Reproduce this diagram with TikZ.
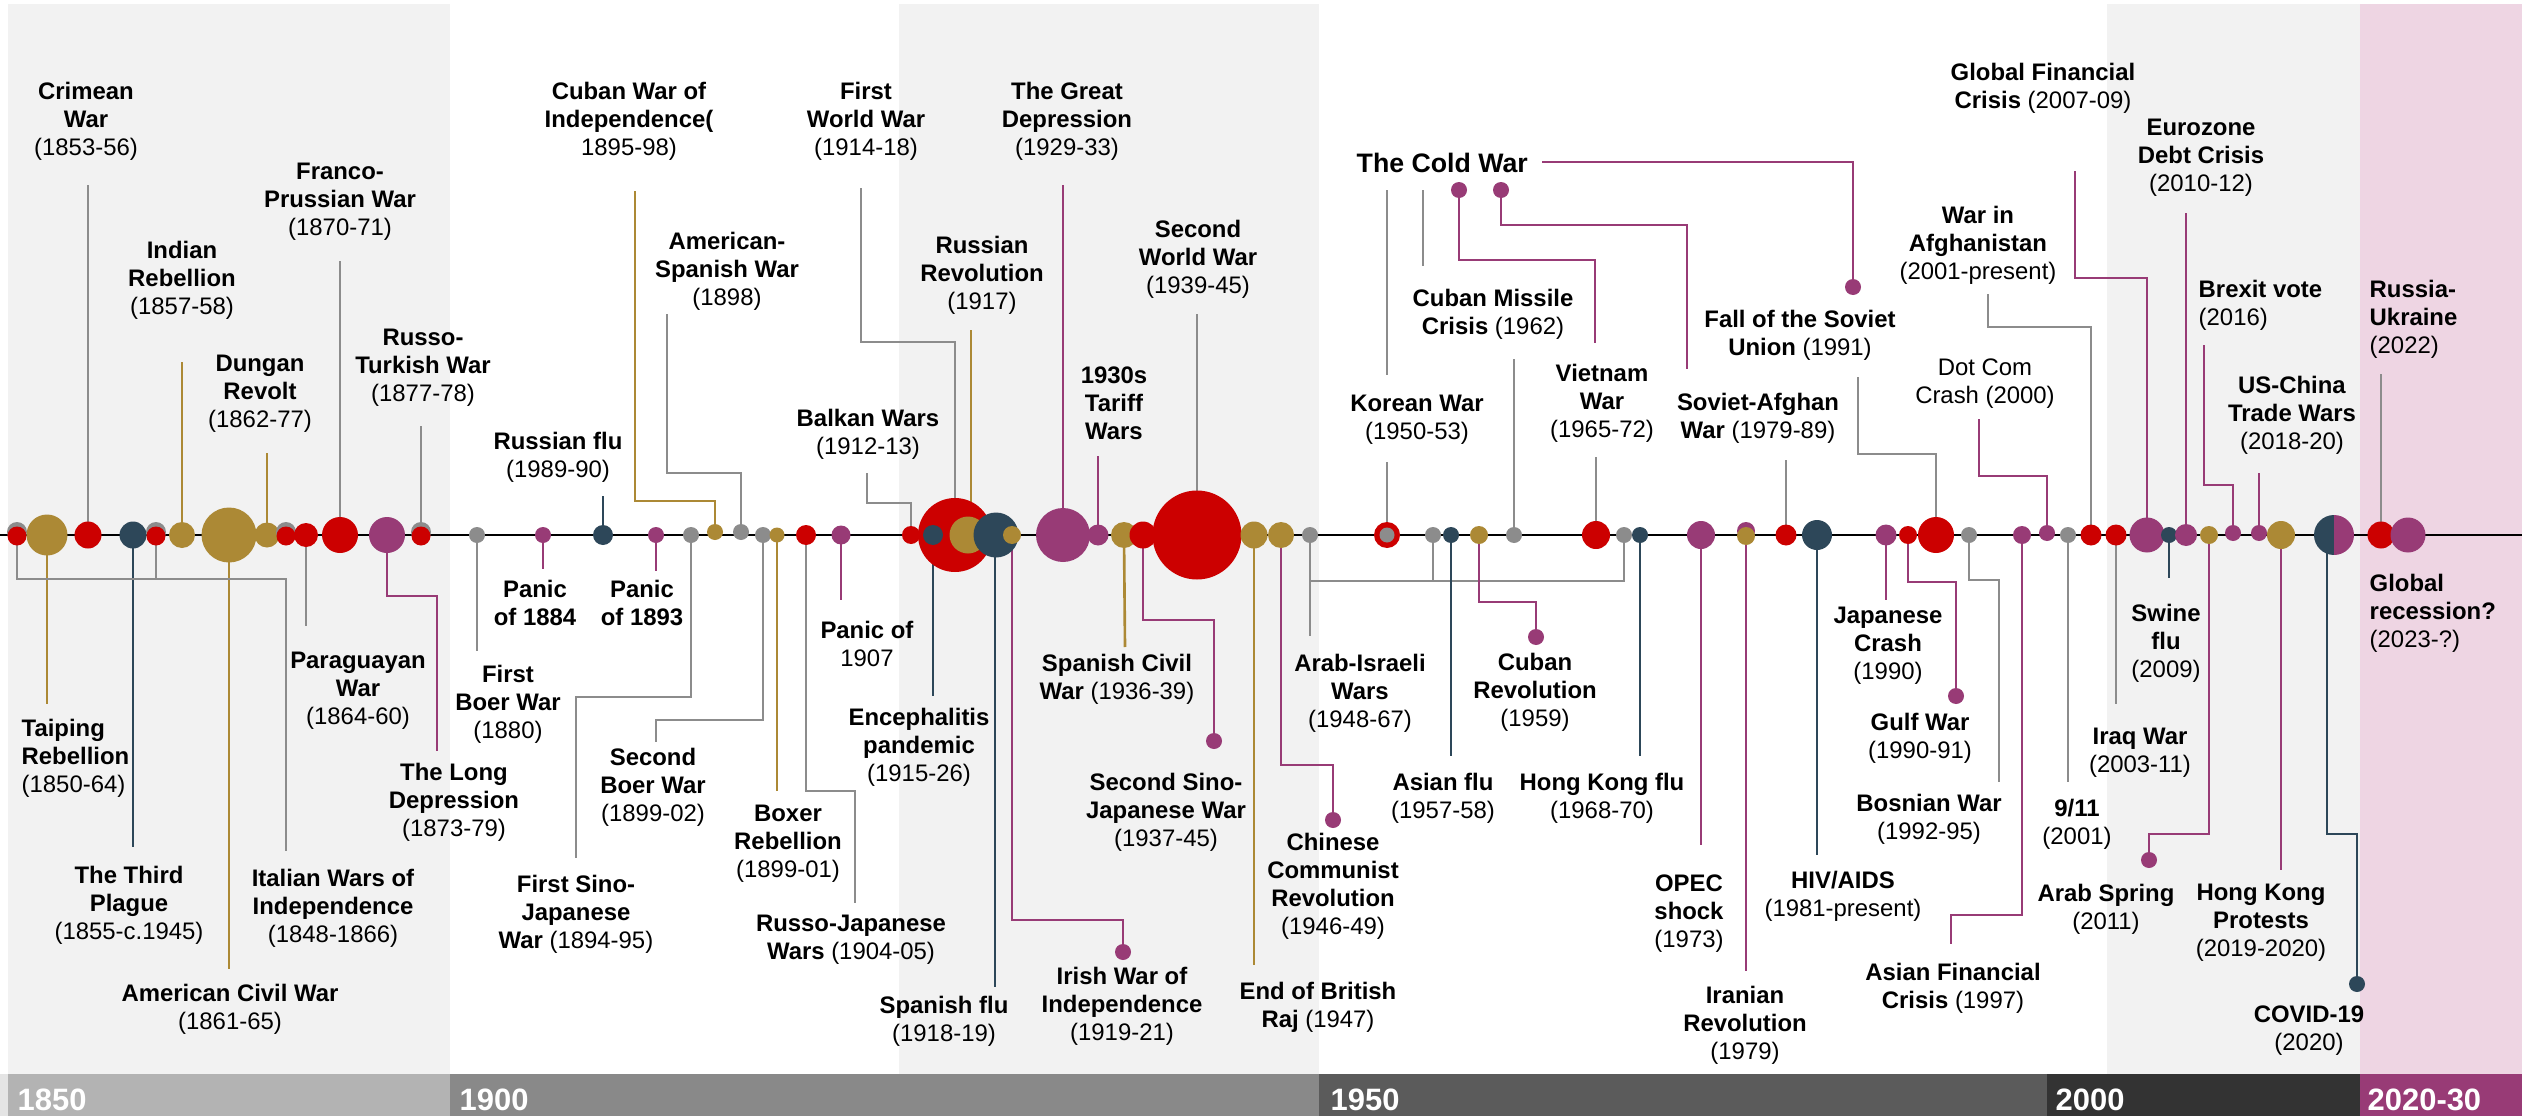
\documentclass[tikz,border=0pt]{standalone}
\usepackage{fontspec}
\setmainfont{Liberation Sans}
\usetikzlibrary{positioning}
\definecolor{cwar}{HTML}{CC0000}
\definecolor{cpol}{HTML}{AC8935}
\definecolor{cflu}{HTML}{2D4759}
\definecolor{ceco}{HTML}{983B76}
\definecolor{cgen}{HTML}{8C8C8C}
\definecolor{cshade}{HTML}{F2F2F2}
\definecolor{cpink}{HTML}{EED5E3}
\definecolor{cbarA}{HTML}{B3B3B3}
\definecolor{cbarB}{HTML}{898989}
\definecolor{cbarC}{HTML}{5B5B5B}
\definecolor{cbarD}{HTML}{333333}
\newcommand{\tb}[1]{\textbf{#1}}
\pgfdeclarelayer{back}
\pgfdeclarelayer{links}
\pgfsetlayers{back,links,main}

\begin{document}
\begin{tikzpicture}[
	x=0.1mm,
	y=-0.1mm,
	dot/.style={circle, draw=none, inner sep=0pt, outer sep=0pt, minimum size=#1},
	wardot/.style={dot=#1, fill=cwar},
	poldot/.style={dot=#1, fill=cpol},
	fludot/.style={dot=#1, fill=cflu},
	ecodot/.style={dot=#1, fill=ceco},
	gendot/.style={dot=#1, fill=cgen},
	lbl/.style={align=center, inner sep=0pt, font=\fontsize{6.8}{8}\selectfont},
	yr/.style={anchor=base west, inner sep=0pt, text=white, font=\fontsize{8.8}{10}\selectfont\bfseries},
	link/.style={line width=0.75pt}
]
\useasboundingbox (0,0) rectangle (2522,1116);

% periods and time bar
\begin{pgfonlayer}{back}
\fill[white] (0,0) rectangle (2522,1116);
\fill[cshade] (8,4) rectangle (450,1074);
\fill[cshade] (899,4) rectangle (1319,1074);
\fill[cshade] (2107,4) rectangle (2360,1074);
\fill[cpink] (2360,4) rectangle (2522,1074);
\fill[cbarA!35] (0,1074) rectangle (8,1116);
\fill[cbarA] (8,1074) rectangle (450,1116);
\fill[cbarB] (450,1074) rectangle (1319,1116);
\fill[cbarC] (1319,1074) rectangle (2047,1116);
\fill[cbarD] (2047,1074) rectangle (2360,1116);
\fill[ceco] (2360,1074) rectangle (2522,1116);
\end{pgfonlayer}

\node[yr] (y1850) at (17,1110) {1850};
\node[yr] (y1900) at (459,1110) {1900};
\node[yr] (y1950) at (1330,1110) {1950};
\node[yr] (y2000) at (2055,1110) {2000};
\node[yr] (y2020) at (2367,1110) {2020-30};

\coordinate (axL) at (0,535);
\coordinate (axR) at (2522,535);

% 1850-1899
\node[gendot=2mm] (itA) at (17,532) {};
\node[wardot=1.9mm] (warA) at (17,536) {};
\node[poldot=4.1mm] (taiping) at (47,535) {};
\node[wardot=2.7mm] (crimea) at (88,535) {};
\node[fludot=2.7mm] (plague) at (133,535) {};
\node[gendot=2mm] (itB) at (156,532) {};
\node[wardot=1.9mm] (warB) at (156,536) {};
\node[poldot=2.6mm] (india) at (182,535) {};
\node[poldot=5.5mm] (amcivil) at (229,535) {};
\node[poldot=2.5mm] (dungan) at (267,535) {};
\node[gendot=2mm] (itC) at (286,532) {};
\node[wardot=1.9mm] (warC) at (286,536) {};
\node[wardot=2.4mm] (paraguay) at (306,535) {};
\node[wardot=3.6mm] (franco) at (340,535) {};
\node[ecodot=3.6mm] (longdep) at (387,535) {};
\node[gendot=2mm] (rusturkB) at (421,532) {};
\node[wardot=1.9mm] (rusturk) at (421,536) {};

% 1900-1949
\node[gendot=1.6mm] (boer1) at (477,535) {};
\node[ecodot=1.6mm] (panic84) at (543,535) {};
\node[fludot=2mm] (rusflu) at (603,535) {};
\node[ecodot=1.6mm] (panic93) at (656,535) {};
\node[gendot=1.6mm] (sino1) at (691,535) {};
\node[poldot=1.6mm] (cuba) at (715,532) {};
\node[gendot=1.6mm] (amspan) at (741,532) {};
\node[gendot=1.6mm] (boer2) at (763,535) {};
\node[poldot=1.5mm] (boxer) at (777,535) {};
\node[wardot=2mm] (rusjap) at (806,535) {};
\node[ecodot=1.9mm] (panic07) at (841,535) {};
\node[wardot=1.8mm] (balkan) at (911,535) {};
\node[wardot=7.4mm] (ww1) at (955,535) {};
\node[fludot=2mm] (enceph) at (933,535) {};
\node[poldot=3.7mm] (rusrev) at (968,535) {};
\node[fludot=4.5mm] (spflu) at (996,535) {};
\node[poldot=1.8mm] (irish) at (1012,535) {};
\node[ecodot=5.4mm] (greatdep) at (1063,535) {};
\node[ecodot=2.1mm] (tariff) at (1098,535) {};
\node[poldot=2.6mm] (spcivil) at (1124,535) {};
\node[wardot=2.7mm] (sino2) at (1143,535) {};
\node[wardot=8.9mm] (ww2) at (1197,535) {};
\node[poldot=2.7mm] (raj) at (1254,535) {};
\node[poldot=2.6mm] (chinarev) at (1281,535) {};

% 1950-1999
\node[gendot=1.6mm] (arab1) at (1310,535) {};
\node[wardot=2.6mm] (korea) at (1387,535) {};
\node[gendot=1.5mm] (koreaC) at (1387,535) {};
\node[gendot=1.6mm] (arab2) at (1433,535) {};
\node[fludot=1.6mm] (asflu) at (1451,535) {};
\node[poldot=1.8mm] (cubarev) at (1479,535) {};
\node[gendot=1.6mm] (missile) at (1514,535) {};
\node[wardot=2.8mm] (vietnam) at (1596,535) {};
\node[gendot=1.6mm] (arab3) at (1624,535) {};
\node[fludot=1.6mm] (hkflu) at (1640,535) {};
\node[ecodot=2.8mm] (opec) at (1701,535) {};
\node[ecodot=1.8mm] (iranB) at (1746,531) {};
\node[poldot=1.8mm] (iran) at (1746,536) {};
\node[wardot=2.1mm] (sovafg) at (1786,535) {};
\node[fludot=3mm] (hiv) at (1817,535) {};
\node[ecodot=2.1mm] (japcrash) at (1886,535) {};
\node[wardot=1.8mm] (gulf) at (1908,535) {};
\node[wardot=3.6mm] (sovfall) at (1936,535) {};
\node[gendot=1.6mm] (bosnia) at (1969,535) {};
\node[ecodot=1.8mm] (asfin) at (2022,535) {};
\node[ecodot=1.6mm] (dotcom) at (2047,533) {};
\node[gendot=1.6mm] (nine) at (2068,535) {};
\node[wardot=2.1mm] (afghan) at (2091,535) {};

% 2000-
\node[wardot=2.1mm] (iraq) at (2116,535) {};
\node[ecodot=3.5mm] (gfc) at (2147,535) {};
\node[fludot=1.6mm] (swine) at (2169,535) {};
\node[ecodot=2.2mm] (euro) at (2186,535) {};
\node[poldot=1.8mm] (arabspr) at (2209,535) {};
\node[ecodot=1.6mm] (brexit) at (2233,533) {};
\node[ecodot=1.6mm] (uschina) at (2259,533) {};
\node[poldot=2.8mm] (hkprot) at (2281,535) {};
\node[dot=4mm, path picture={
	\fill[cflu] (path picture bounding box.north west) rectangle (path picture bounding box.south);
	\fill[ceco] (path picture bounding box.north) rectangle (path picture bounding box.south east);}] (covid) at (2334,535) {};
\node[wardot=2.7mm] (rusukr) at (2381,535) {};
\node[ecodot=3.5mm] (recession) at (2408,535) {};

% end dots
\node[ecodot=1.6mm] (irishD) at (1123,952) {};
\node[ecodot=1.6mm] (sino2D) at (1214,741) {};
\node[ecodot=1.6mm] (chinaD) at (1333,820) {};
\node[ecodot=1.6mm] (cubarevD) at (1536,637) {};
\node[ecodot=1.6mm] (cwA) at (1459,190) {};
\node[ecodot=1.6mm] (cwB) at (1501,190) {};
\node[ecodot=1.6mm] (sovfallD) at (1853,287) {};
\node[ecodot=1.6mm] (gulfD) at (1956,696) {};
\node[ecodot=1.6mm] (asprD) at (2149,860) {};
\node[fludot=1.6mm] (covidD) at (2357,984) {};

% labels 1850-1899
\node[lbl] (crimeaL) at (86,121) {\tb{Crimean}\\\tb{War}\\(1853-56)};
\node[lbl] (francoL) at (340,202) {\tb{Franco-}\\\tb{Prussian War}\\(1870-71)};
\node[lbl] (indiaL) at (182,280) {\tb{Indian}\\\tb{Rebellion}\\(1857-58)};
\node[lbl] (dunganL) at (260,394) {\tb{Dungan}\\\tb{Revolt}\\(1862-77)};
\node[lbl] (rusturkL) at (423,368) {\tb{Russo-}\\\tb{Turkish War}\\(1877-78)};
\node[lbl, align=left, anchor=west] (taipingL) at (21,758) {\tb{Taiping}\\\tb{Rebellion}\\(1850-64)};
\node[lbl] (plagueL) at (129,905) {\tb{The Third}\\\tb{Plague}\\(1855-c.1945)};
\node[lbl] (amcivilL) at (230,1009) {\tb{American Civil War}\\(1861-65)};
\node[lbl] (italyL) at (333,908) {\tb{Italian Wars of}\\\tb{Independence}\\(1848-1866)};
\node[lbl] (paraguayL) at (358,691) {\tb{Paraguayan}\\\tb{War}\\(1864-60)};
\node[lbl] (longdepL) at (454,802) {\tb{The Long}\\\tb{Depression}\\(1873-79)};

% labels 1900-1949
\node[lbl] (cubaL) at (629,121) {\tb{Cuban War of}\\\tb{Independence(}\\1895-98)};
\node[lbl] (amspanL) at (727,271) {\tb{American-}\\\tb{Spanish War}\\(1898)};
\node[lbl] (rusfluL) at (558,457) {\tb{Russian flu}\\(1989-90)};
\node[lbl] (balkanL) at (868,434) {\tb{Balkan Wars}\\(1912-13)};
\node[lbl] (panic84L) at (535,603) {\tb{Panic}\\\tb{of 1884}};
\node[lbl] (panic93L) at (642,603) {\tb{Panic}\\\tb{of 1893}};
\node[lbl] (boer1L) at (508,704) {\tb{First}\\\tb{Boer War}\\(1880)};
\node[lbl] (boer2L) at (653,787) {\tb{Second}\\\tb{Boer War}\\(1899-02)};
\node[lbl] (sino1L) at (576,914) {\tb{First Sino-}\\\tb{Japanese}\\\tb{War} (1894-95)};
\node[lbl] (boxerL) at (788,844) {\tb{Boxer}\\\tb{Rebellion}\\(1899-01)};
\node[lbl] (rusjapL) at (851,940) {\tb{Russo-Japanese}\\\tb{Wars} (1904-05)};
\node[lbl] (panic07L) at (867,644) {\tb{Panic of}\\1907};
\node[lbl] (encephL) at (919,747) {\tb{Encephalitis}\\\tb{pandemic}\\(1915-26)};
\node[lbl] (ww1L) at (866,121) {\tb{First}\\\tb{World War}\\(1914-18)};
\node[lbl] (greatdepL) at (1067,121) {\tb{The Great}\\\tb{Depression}\\(1929-33)};
\node[lbl] (rusrevL) at (982,275) {\tb{Russian}\\\tb{Revolution}\\(1917)};
\node[lbl] (ww2L) at (1198,259) {\tb{Second}\\\tb{World War}\\(1939-45)};
\node[lbl] (tariffL) at (1114,403) {\tb{1930s}\\\tb{Tariff}\\\tb{Wars}};
\node[lbl] (spcivilL) at (1117,679) {\tb{Spanish Civil}\\\tb{War} (1936-39)};
\node[lbl] (sino2L) at (1166,812) {\tb{Second Sino-}\\\tb{Japanese War}\\(1937-45)};
\node[lbl] (spfluL) at (944,1021) {\tb{Spanish flu}\\(1918-19)};
\node[lbl] (irishL) at (1122,1006) {\tb{Irish War of}\\\tb{Independence}\\(1919-21)};
\node[lbl] (rajL) at (1318,1007) {\tb{End of British}\\\tb{Raj} (1947)};
\node[lbl] (chinarevL) at (1333,886) {\tb{Chinese}\\\tb{Communist}\\\tb{Revolution}\\(1946-49)};

% labels 1950-1999
\node[lbl, anchor=west, font=\fontsize{7.6}{9}\selectfont\bfseries] (coldL) at (1356,163) {The Cold War};
\node[lbl] (koreaL) at (1417,420) {\tb{Korean War}\\(1950-53)};
\node[lbl] (missileL) at (1493,314) {\tb{Cuban Missile}\\\tb{Crisis} (1962)};
\node[lbl] (vietnamL) at (1602,403) {\tb{Vietnam}\\\tb{War}\\(1965-72)};
\node[lbl] (sovafgL) at (1758,418) {\tb{Soviet-Afghan}\\\tb{War} (1979-89)};
\node[lbl] (sovfallL) at (1800,335) {\tb{Fall of the Soviet}\\\tb{Union} (1991)};
\node[lbl] (arabL) at (1360,693) {\tb{Arab-Israeli}\\\tb{Wars}\\(1948-67)};
\node[lbl] (cubarevL) at (1535,692) {\tb{Cuban}\\\tb{Revolution}\\(1959)};
\node[lbl] (asfluL) at (1443,798) {\tb{Asian flu}\\(1957-58)};
\node[lbl] (hkfluL) at (1602,798) {\tb{Hong Kong flu}\\(1968-70)};
\node[lbl] (opecL) at (1689,914) {\tb{OPEC}\\\tb{shock}\\(1973)};
\node[lbl] (iranL) at (1745,1025) {\tb{Iranian}\\\tb{Revolution}\\(1979)};
\node[lbl] (japcrashL) at (1888,646) {\tb{Japanese}\\\tb{Crash}\\(1990)};
\node[lbl] (gulfL) at (1920,738) {\tb{Gulf War}\\(1990-91)};
\node[lbl] (bosniaL) at (1929,819) {\tb{Bosnian War}\\(1992-95)};
\node[lbl] (hivL) at (1843,896) {\tb{HIV/AIDS}\\(1981-present)};
\node[lbl] (asfinL) at (1953,988) {\tb{Asian Financial}\\\tb{Crisis} (1997)};
\node[lbl] (dotcomL) at (1985,384) {Dot Com\\Crash (2000)};
\node[lbl] (afghanL) at (1978,245) {\tb{War in}\\\tb{Afghanistan}\\(2001-present)};

% labels 2000-
\node[lbl] (gfcL) at (2043,88) {\tb{Global Financial}\\\tb{Crisis} (2007-09)};
\node[lbl] (nineL) at (2077,824) {\tb{9/11}\\(2001)};
\node[lbl] (iraqL) at (2140,753) {\tb{Iraq War}\\(2003-11)};
\node[lbl] (arabsprL) at (2106,909) {\tb{Arab Spring}\\(2011)};
\node[lbl] (euroL) at (2201,158) {\tb{Eurozone}\\\tb{Debt Crisis}\\(2010-12)};
\node[lbl, align=left, anchor=west] (brexitL) at (2198,305) {\tb{Brexit vote}\\(2016)};
\node[lbl] (uschinaL) at (2292,415) {\tb{US-China}\\\tb{Trade Wars}\\(2018-20)};
\node[lbl, align=left, anchor=west] (rusukrL) at (2369,319) {\tb{Russia-}\\\tb{Ukraine}\\(2022)};
\node[lbl] (swineL) at (2166,643) {\tb{Swine}\\\tb{flu}\\(2009)};
\node[lbl, align=left, anchor=west] (recessionL) at (2369,613) {\tb{Global}\\\tb{recession?}\\(2023-?)};
\node[lbl] (hkprotL) at (2261,923) {\tb{Hong Kong}\\\tb{Protests}\\(2019-2020)};
\node[lbl] (covidL) at (2309,1031) {\tb{COVID-19}\\(2020)};

% free ends of the connectors
\coordinate (taipingE) at (47,704);
\coordinate (crimeaE) at (88,185);
\coordinate (plagueE) at (133,847);
\coordinate (indiaE) at (182,362);
\coordinate (amcivilE) at (229,969);
\coordinate (dunganE) at (267,453);
\coordinate (paraguayE) at (306,626);
\coordinate (francoE) at (340,261);
\coordinate (rusturkE) at (421,426);
\coordinate (italyE) at (286,851);
\coordinate (longdepE) at (437,751);
\coordinate (boer1E) at (477,651);
\coordinate (panic84E) at (543,569);
\coordinate (rusfluE) at (603,496);
\coordinate (panic93E) at (656,571);
\coordinate (sino1E) at (576,858);
\coordinate (cubaE) at (635,191);
\coordinate (amspanE) at (667,314);
\coordinate (boer2E) at (656,742);
\coordinate (boxerE) at (777,791);
\coordinate (rusjapE) at (855,903);
\coordinate (panic07E) at (841,600);
\coordinate (balkanE) at (867,473);
\coordinate (ww1E) at (861,188);
\coordinate (encephE) at (933,696);
\coordinate (rusrevE) at (971,330);
\coordinate (spfluE) at (995,987);
\coordinate (greatdepE) at (1063,185);
\coordinate (tariffE) at (1098,456);
\coordinate (spcivilE) at (1125,647);
\coordinate (ww2E) at (1197,314);
\coordinate (rajE) at (1254,965);
\coordinate (arabE) at (1310,636);
\coordinate (koreaE) at (1387,462);
\coordinate (asfluE) at (1451,756);
\coordinate (missileE) at (1514,359);
\coordinate (vietnamE) at (1596,457);
\coordinate (hkfluE) at (1640,756);
\coordinate (opecE) at (1701,845);
\coordinate (cwK1) at (1387,190);
\coordinate (cwK2) at (1387,375);
\coordinate (cwM1) at (1423,190);
\coordinate (cwM2) at (1423,266);
\coordinate (vietE) at (1595,343);
\coordinate (sovafgE2) at (1687,369);
\coordinate (coldS) at (1542,162);
\coordinate (iranE) at (1746,971);
\coordinate (sovafgE) at (1786,460);
\coordinate (hivE) at (1817,855);
\coordinate (japcrashE) at (1886,600);
\coordinate (sovfallE) at (1858,377);
\coordinate (bosniaE) at (1999,782);
\coordinate (asfinE) at (1951,944);
\coordinate (dotcomE) at (1979,419);
\coordinate (nineE) at (2068,782);
\coordinate (afghanE) at (1988,294);
\coordinate (iraqE) at (2116,704);
\coordinate (gfcE) at (2075,171);
\coordinate (swineE) at (2169,578);
\coordinate (euroE) at (2186,213);
\coordinate (brexitE) at (2204,345);
\coordinate (uschinaE) at (2259,473);
\coordinate (hkprotE) at (2281,870);
\coordinate (rusukrE) at (2381,374);

\begin{pgfonlayer}{links}
\draw[line width=0.65pt] (axL) -- (axR);
% 1850-1899
\draw[link, cpol] (taiping.center) -- (taipingE);
\draw[link, cgen] (crimea.center) -- (crimeaE);
\draw[link, cflu] (plague.center) -- (plagueE);
\draw[link, cpol] (india.center) -- (indiaE);
\draw[link, cpol] (amcivil.center) -- (amcivilE);
\draw[link, cpol] (dungan.center) -- (dunganE);
\draw[link, cgen] (paraguay.center) -- (paraguayE);
\draw[link, cgen] (franco.center) -- (francoE);
\draw[link, cgen] (rusturk.center) -- (rusturkE);
\draw[link, cgen] (itA.center) -- ++(0,47) -| (italyE);
\draw[link, cgen] (itB.center) -- ++(0,47);
\draw[link, ceco] (longdep.center) -- ++(0,61) -| (longdepE);
% 1900-1949
\draw[link, cgen] (boer1.center) -- (boer1E);
\draw[link, ceco] (panic84.center) -- (panic84E);
\draw[link, cflu] (rusflu.center) -- (rusfluE);
\draw[link, ceco] (panic93.center) -- (panic93E);
\draw[link, cgen] (sino1.center) -- ++(0,162) -| (sino1E);
\draw[link, cpol] (cuba.center) -- ++(0,-31) -| (cubaE);
\draw[link, cgen] (amspan.center) -- ++(0,-59) -| (amspanE);
\draw[link, cgen] (boer2.center) -- ++(0,185) -| (boer2E);
\draw[link, cpol] (boxer.center) -- (boxerE);
\draw[link, cgen] (rusjap.center) -- ++(0,256) -| (rusjapE);
\draw[link, ceco] (panic07.center) -- (panic07E);
\draw[link, cgen] (balkan.center) -- ++(0,-32) -| (balkanE);
\draw[link, cgen] (ww1.center) -- ++(0,-193) -| (ww1E);
\draw[link, cflu] (enceph.center) -- (encephE);
\draw[link, cpol] (rusrevE) -- (rusrevE |- rusrev.center);
\draw[link, cflu] (spfluE |- spflu.center) -- (spfluE);
\draw[link, ceco] (irish.center) -- ++(0,385) -| (irishD);
\draw[link, ceco] (greatdep.center) -- (greatdepE);
\draw[link, ceco] (tariff.center) -- (tariffE);
\draw[link, cpol] (spcivil.center) -- (spcivilE);
\draw[link, ceco] (sino2.center) -- ++(0,85) -| (sino2D);
\draw[link, cgen] (ww2.center) -- (ww2E);
\draw[link, cpol] (raj.center) -- (rajE);
\draw[link, ceco] (chinarev.center) -- ++(0,230) -| (chinaD);
% 1950-1999
\draw[link, cgen] (arab1.center) -- (arabE);
\draw[link, cgen] (arab3.center) -- ++(0,46) -| (arab1.center);
\draw[link, cgen] (arab2.center) -- ++(0,46);
\draw[link, cgen] (korea.center) -- (koreaE);
\draw[link, cflu] (asflu.center) -- (asfluE);
\draw[link, ceco] (cubarev.center) -- ++(0,67) -| (cubarevD);
\draw[link, cgen] (missile.center) -- (missileE);
\draw[link, cgen] (vietnam.center) -- (vietnamE);
\draw[link, cflu] (hkflu.center) -- (hkfluE);
\draw[link, ceco] (opec.center) -- (opecE);
\draw[link, cgen] (cwK1) -- (cwK2);
\draw[link, cgen] (cwM1) -- (cwM2);
\draw[link, ceco] (cwA.center) -- ++(0,70) -| (vietE);
\draw[link, ceco] (cwB.center) -- ++(0,35) -| (sovafgE2);
\draw[link, ceco] (coldS) -| (sovfallD);
\draw[link, ceco] (iran.center) -- (iranE);
\draw[link, cgen] (sovafg.center) -- (sovafgE);
\draw[link, cflu] (hiv.center) -- (hivE);
\draw[link, ceco] (japcrash.center) -- (japcrashE);
\draw[link, ceco] (gulf.center) -- ++(0,47) -| (gulfD);
\draw[link, cgen] (sovfall.center) -- ++(0,-81) -| (sovfallE);
\draw[link, cgen] (bosnia.center) -- ++(0,45) -| (bosniaE);
\draw[link, ceco] (asfin.center) -- ++(0,380) -| (asfinE);
\draw[link, ceco] (dotcom.center) -- ++(0,-57) -| (dotcomE);
\draw[link, cgen] (nine.center) -- (nineE);
\draw[link, cgen] (afghan.center) -- ++(0,-208) -| (afghanE);
% 2000-
\draw[link, cgen] (iraq.center) -- (iraqE);
\draw[link, ceco] (gfc.center) -- ++(0,-257) -| (gfcE);
\draw[link, cflu] (swine.center) -- (swineE);
\draw[link, ceco] (euro.center) -- (euroE);
\draw[link, ceco] (arabspr.center) -- ++(0,299) -| (asprD);
\draw[link, ceco] (brexit.center) -- ++(0,-48) -| (brexitE);
\draw[link, ceco] (uschina.center) -- (uschinaE);
\draw[link, ceco] (hkprot.center) -- (hkprotE);
\draw[link, cflu] ([xshift=-2pt]covid.center) -- ++(0,299) -| (covidD);
\draw[link, cgen] (rusukr.center) -- (rusukrE);
\end{pgfonlayer}

\end{tikzpicture}
\end{document}
